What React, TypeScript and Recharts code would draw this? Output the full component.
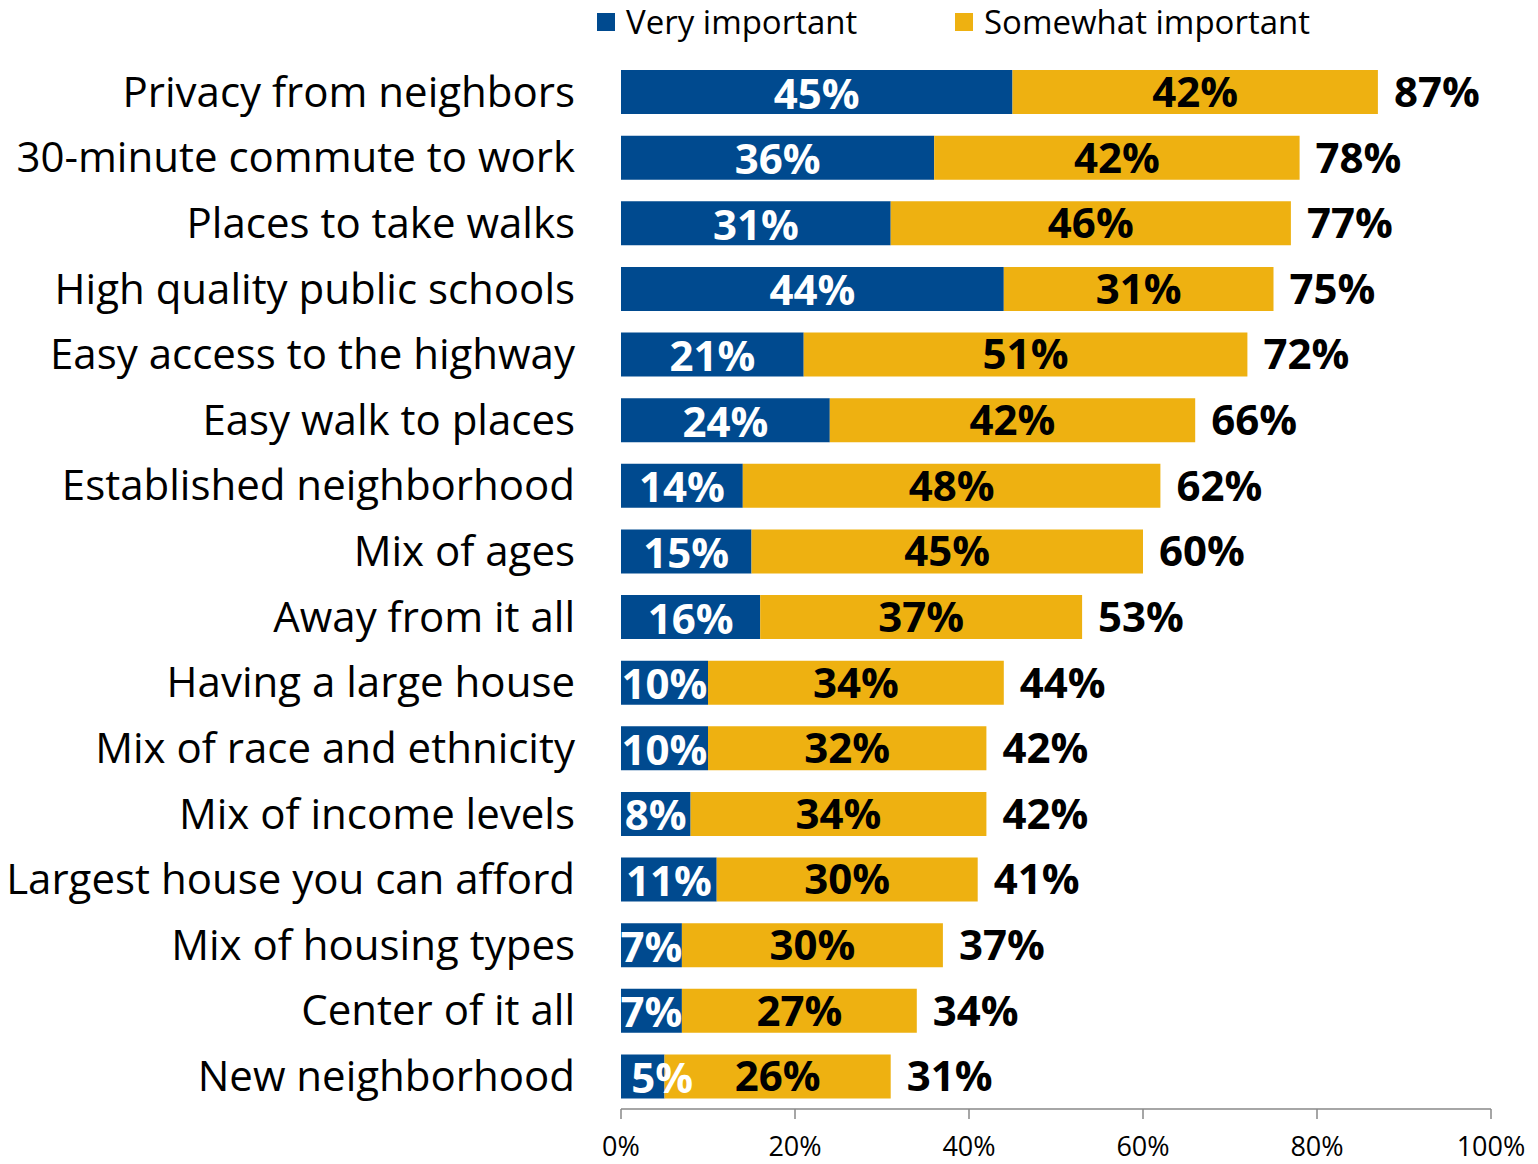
import { BarChart, Bar, XAxis, YAxis, Legend, LabelList } from 'recharts';

const categories = [
  'Privacy from neighbors',
  '30-minute commute to work',
  'Places to take walks',
  'High quality public schools',
  'Easy access to the highway',
  'Easy walk to places',
  'Established neighborhood',
  'Mix of ages',
  'Away from it all',
  'Having a large house',
  'Mix of race and ethnicity',
  'Mix of income levels',
  'Largest house you can afford',
  'Mix of housing types',
  'Center of it all',
  'New neighborhood',
];
const veryImportant = [45, 36, 31, 44, 21, 24, 14, 15, 16, 10, 10, 8, 11, 7, 7, 5];
const somewhatImportant = [42, 42, 46, 31, 51, 42, 48, 45, 37, 34, 32, 34, 30, 30, 27, 26];
const totals = [87, 78, 77, 75, 72, 66, 62, 60, 53, 44, 42, 42, 41, 37, 34, 31];
const xTicks = [0, 20, 40, 60, 80, 100];

const BLUE = '#004A8F';
const GOLD = '#EEB111';
const FONT = '"Open Sans", sans-serif';
const VALUE_SIZE = 42;

const data = categories.map((name, i) => ({
  name,
  very: veryImportant[i],
  some: somewhatImportant[i],
  total: totals[i],
}));

const pct = (v: any) => `${v}%`;

// value label in the blue segment; pushed right when it does not fit (like the original)
function VeryLabel(props: any) {
  const { x, y, width, height, value } = props;
  const text = `${value}%`;
  const textW = text.length * 0.65 * VALUE_SIZE;
  const cx = textW > width ? x + 14 + textW / 2 : x + width / 2;
  return (
    <text
      x={cx}
      y={y + height / 2}
      textAnchor="middle"
      dominantBaseline="central"
      fill="#fff"
      style={{ fontSize: VALUE_SIZE, fontWeight: 700, fontFamily: FONT }}
    >
      {text}
    </text>
  );
}

function LegendContent() {
  const items = [
    { label: 'Very important', color: BLUE, x: 597 },
    { label: 'Somewhat important', color: GOLD, x: 955 },
  ];
  return (
    <div style={{ position: 'relative', width: 1538, height: 50, fontFamily: FONT }}>
      {items.map((it) => (
        <div key={it.label}>
          <div style={{ position: 'absolute', left: it.x, top: 13, width: 18, height: 18, background: it.color }} />
          <div style={{ position: 'absolute', left: it.x + 29, top: 0, fontSize: 33, lineHeight: '44px', color: '#000', whiteSpace: 'nowrap' }}>
            {it.label}
          </div>
        </div>
      ))}
    </div>
  );
}

export default function App() {
  return (
    <div style={{ position: 'absolute', left: 0, top: 0, background: '#fff' }}>
      <BarChart
        width={1538}
        height={1164}
        data={data}
        layout="vertical"
        barSize={44}
        margin={{ top: 59, right: 47, bottom: 0, left: 0 }}
      >
        <XAxis
          type="number"
          domain={[0, 100]}
          ticks={xTicks}
          tickFormatter={pct}
          height={55}
          stroke="#898989"
          strokeWidth={1.5}
          tickSize={10}
          tickMargin={18}
          tick={{ fontSize: 27, fill: '#000', fontFamily: FONT }}
        />
        <YAxis
          type="category"
          dataKey="name"
          width={621}
          axisLine={false}
          tickLine={false}
          tickSize={0}
          tickMargin={46}
          interval={0}
          tick={{ fontSize: 42, fill: '#000', fontFamily: FONT }}
        />
        <Legend
          layout="horizontal"
          verticalAlign="middle"
          align="center"
          wrapperStyle={{ top: 0, left: 0, width: 1538, height: 50 }}
          content={() => <LegendContent />}
        />
        <Bar dataKey="very" name="Very important" stackId="a" fill={BLUE} isAnimationActive={false}>
          <LabelList dataKey="very" content={<VeryLabel />} />
        </Bar>
        <Bar dataKey="some" name="Somewhat important" stackId="a" fill={GOLD} isAnimationActive={false}>
          <LabelList
            dataKey="some"
            position="center"
            formatter={pct}
            fill="#000"
            style={{ fontSize: VALUE_SIZE, fontWeight: 700, fontFamily: FONT }}
          />
          <LabelList
            dataKey="total"
            position="right"
            offset={16}
            formatter={pct}
            fill="#000"
            style={{ fontSize: VALUE_SIZE, fontWeight: 700, fontFamily: FONT }}
          />
        </Bar>
      </BarChart>
    </div>
  );
}
